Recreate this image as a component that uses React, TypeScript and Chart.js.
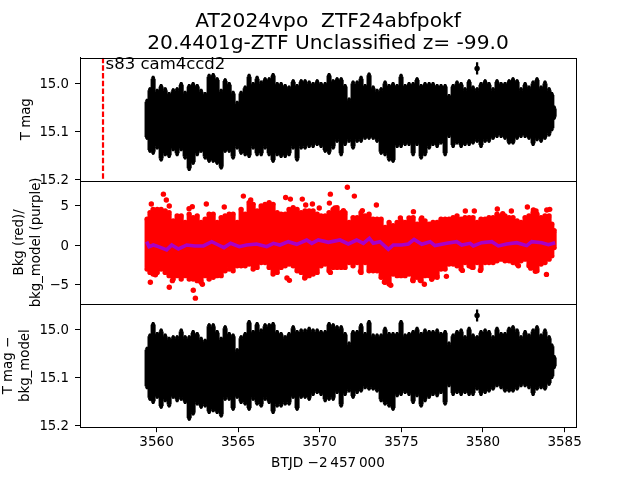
import React, { useEffect, useRef } from "react";
import { Chart, registerables } from "chart.js";

Chart.register(...registerables);

const times = [
  3559.42, 3559.6, 3559.79, 3560.04, 3560.28, 3560.53, 3560.77, 3561.02, 3561.26, 3561.51, 3561.75, 3562.0, 3562.24, 3562.49, 3562.73, 3562.98,
  3563.22, 3563.47, 3563.71, 3563.96, 3564.2, 3564.45, 3564.69, 3564.94, 3565.18, 3565.43, 3565.67, 3565.92, 3566.16, 3566.41, 3566.65, 3566.9,
  3567.14, 3567.39, 3567.63, 3567.88, 3568.12, 3568.37, 3568.61, 3568.86, 3569.1, 3569.35, 3569.59, 3569.84, 3570.08, 3570.33, 3570.57, 3570.82,
  3571.06, 3571.31, 3571.55, 3571.8, 3572.04, 3572.29, 3572.53, 3572.78, 3573.02, 3573.27, 3573.51, 3573.76, 3574.0, 3574.25, 3574.49, 3574.74,
  3574.98, 3575.23, 3575.47, 3575.72, 3575.96, 3576.21, 3576.45, 3576.7, 3576.94, 3577.19, 3577.43, 3577.68, 3577.92, 3578.17, 3578.41, 3578.66,
  3578.9, 3579.15, 3579.39, 3579.64, 3579.88, 3580.13, 3580.37, 3580.62, 3580.86, 3581.11, 3581.35, 3581.6, 3581.84, 3582.09, 3582.33, 3582.58,
  3582.82, 3583.07, 3583.31, 3583.56, 3583.8, 3584.05, 3584.22, 3584.36,
];

const tmagUpper = [
  15.033, 15.009, 14.985, 15.012, 15.002, 15.009, 15.019, 15.011, 15.009, 14.998, 15.016, 15.002, 14.998, 15.002, 15.012, 15.019, 14.981, 14.979, 14.988, 15.012, 14.99, 14.998, 15.016, 15.037, 15.016, 15.005, 14.981, 14.998, 14.985, 14.995, 14.988, 14.988, 14.979, 14.998, 14.998, 15.002, 15.005, 14.992, 15.002, 14.992, 14.992, 14.995, 14.998, 14.992, 14.998, 14.998, 14.979,
  14.992, 14.988, 14.988, 15.002, 15.03, 14.995, 14.995, 14.985, 15.002, 14.978, 15.005, 15.012, 15.009, 14.995, 15.002, 14.998, 15.002, 14.981, 15.002, 14.998, 14.998, 14.988, 15.002, 14.998, 14.998, 14.998, 15.002, 15.002, 15.002, 15.023, 15.002, 14.995, 14.998, 15.009, 14.992, 15.005, 15.009, 14.998, 14.992, 14.998, 15.009, 14.992, 14.998, 14.998, 14.992, 14.988, 14.992, 15.009, 14.998, 15.005, 14.995, 14.988, 15.005, 14.995, 15.009, 15.019, 15.047,
];
const tmagLower = [
  15.117, 15.144, 15.148, 15.137, 15.162, 15.151, 15.155, 15.141, 15.151, 15.141, 15.158, 15.182, 15.169, 15.151, 15.144, 15.158, 15.165, 15.165, 15.169, 15.179, 15.144, 15.144, 15.158, 15.137, 15.148, 15.151, 15.155, 15.137, 15.151, 15.151, 15.137, 15.151, 15.165, 15.151, 15.155, 15.155, 15.151, 15.137, 15.162, 15.137, 15.137, 15.134, 15.134, 15.13, 15.134, 15.144, 15.148,
  15.137, 15.123, 15.151, 15.13, 15.123, 15.137, 15.123, 15.123, 15.117, 15.117, 15.117, 15.123, 15.148, 15.151, 15.162, 15.165, 15.134, 15.134, 15.13, 15.13, 15.151, 15.13, 15.158, 15.151, 15.137, 15.13, 15.134, 15.127, 15.151, 15.113, 15.134, 15.127, 15.134, 15.13, 15.13, 15.127, 15.123, 15.134, 15.123, 15.123, 15.117, 15.113, 15.113, 15.117, 15.127, 15.127, 15.117, 15.113, 15.113, 15.117, 15.13, 15.12, 15.123, 15.117, 15.11, 15.099, 15.075,
];
const tmagOutlierT = [3579.64];
const tmagOutlierY = [14.969];
const tmagOutlierErr = [0.012];

const corrUpper = [
  15.037, 15.009, 14.985, 15.006, 14.999, 15.009, 15.016, 15.013, 15.013, 14.999, 15.013, 15.013, 15.002, 15.006, 15.016, 15.02, 14.988, 14.988, 15.002, 15.016, 14.992, 15.006, 15.009, 15.04, 15.013, 15.006, 14.981, 15.002, 14.985, 14.999, 14.988, 14.988, 14.985, 15.002, 15.006, 15.013, 15.006, 14.992, 15.002, 14.999, 14.999, 14.995, 14.999, 14.999, 15.002, 15.002, 14.985,
  14.988, 14.992, 14.992, 15.006, 15.026, 15.002, 15.002, 14.988, 15.006, 14.981, 15.009, 15.009, 15.009, 14.995, 15.006, 15.006, 15.006, 14.981, 15.009, 15.006, 15.002, 14.995, 15.006, 14.999, 15.002, 15.002, 14.999, 15.006, 15.002, 15.026, 15.009, 15.002, 14.999, 15.013, 14.995, 15.009, 15.013, 15.002, 14.999, 15.002, 15.013, 14.995, 15.006, 15.006, 14.995, 14.992, 14.999, 15.013, 15.002, 15.009, 14.999, 14.992, 15.009, 14.999, 15.013, 15.03, 15.054,
];
const corrLower = [
  15.124, 15.148, 15.155, 15.144, 15.165, 15.151, 15.162, 15.144, 15.151, 15.148, 15.155, 15.19, 15.179, 15.158, 15.165, 15.162, 15.176, 15.172, 15.176, 15.183, 15.148, 15.148, 15.169, 15.144, 15.155, 15.158, 15.169, 15.148, 15.158, 15.162, 15.148, 15.155, 15.176, 15.162, 15.162, 15.158, 15.158, 15.144, 15.169, 15.144, 15.144, 15.148, 15.138, 15.134, 15.138, 15.151, 15.148,
  15.148, 15.134, 15.162, 15.138, 15.131, 15.144, 15.134, 15.131, 15.124, 15.127, 15.127, 15.131, 15.151, 15.158, 15.162, 15.169, 15.141, 15.138, 15.134, 15.138, 15.155, 15.141, 15.162, 15.151, 15.144, 15.138, 15.141, 15.134, 15.158, 15.12, 15.138, 15.134, 15.138, 15.134, 15.138, 15.138, 15.127, 15.138, 15.134, 15.131, 15.127, 15.12, 15.124, 15.131, 15.131, 15.131, 15.127, 15.12, 15.12, 15.124, 15.138, 15.127, 15.124, 15.127, 15.117, 15.103, 15.082,
];
const corrOutlierT = [3579.64];
const corrOutlierY = [14.971];
const corrOutlierErr = [0.012];

const bkgUpper = [
  3.29, 4.12, 4.54, 4.54, 4.54, 4.33, 4.12, 3.08, 3.71, 3.71, 2.88, 3.92, 3.5, 3.71, 2.88, 3.29, 3.92, 3.92, 2.88, 3.5, 3.71, 3.92, 3.92, 2.88, 4.54, 3.92, 5.38, 5.17, 4.33, 4.96, 5.17, 5.38, 5.17, 4.12, 3.92, 3.92, 4.54, 4.75, 4.54, 4.12, 4.33, 4.33, 4.33, 3.92, 3.71, 3.71, 4.12,
  4.54, 4.75, 4.12, 4.12, 2.88, 3.5, 3.5, 4.12, 3.71, 3.92, 3.29, 3.29, 3.29, 2.25, 2.88, 2.46, 2.88, 3.08, 2.88, 3.08, 3.5, 2.67, 3.29, 3.08, 2.67, 2.88, 2.88, 3.29, 3.29, 3.29, 3.5, 3.71, 3.29, 3.5, 3.5, 3.5, 2.88, 3.29, 3.29, 3.5, 3.5, 3.92, 3.71, 3.71, 3.5, 3.5, 3.08, 2.88, 3.5, 3.71, 4.12, 3.92, 3.5, 3.71, 3.71, 2.67, 1.83,
];
const bkgLower = [
  -3.0, -3.42, -3.63, -3.42, -3.0, -3.42, -3.83, -4.25, -3.83, -4.25, -3.83, -4.25, -4.25, -4.46, -4.67, -3.83, -4.25, -4.04, -3.83, -3.83, -3.21, -3.0, -3.21, -2.58, -2.58, -2.58, -2.37, -3.0, -2.79, -2.17, -2.17, -2.79, -3.63, -3.42, -2.79, -2.58, -2.37, -2.58, -3.21, -3.42, -4.04, -3.83, -3.63, -3.42, -2.58, -2.37, -3.21,
  -2.79, -2.79, -2.79, -2.79, -2.17, -2.58, -2.17, -3.42, -2.17, -3.21, -3.21, -3.21, -4.04, -4.67, -4.87, -3.63, -3.83, -3.83, -3.83, -3.63, -4.46, -4.04, -4.46, -3.83, -3.83, -4.04, -4.04, -3.0, -3.0, -2.37, -2.37, -2.58, -3.0, -2.17, -2.58, -2.79, -2.17, -3.0, -2.17, -2.17, -2.17, -1.96, -1.75, -1.96, -1.96, -2.17, -2.37, -1.96, -1.75, -2.58, -2.79, -3.21, -2.37, -2.17, -1.75, -1.33, -0.29,
];
const bkgOutlierT = [
  3560.42, 3560.6, 3560.78, 3559.68, 3562.19, 3561.99, 3563.05, 3564.15, 3565.32, 3565.77, 3567.91, 3568.2, 3568.93, 3569.14, 3569.55, 3569.97, 3570.65, 3570.59, 3570.93,
  3559.62, 3559.93, 3560.78, 3560.97, 3562.25, 3562.38, 3562.81, 3567.99, 3568.14, 3569.08, 3570.65,
  3571.69, 3572.12, 3573.47, 3575.74, 3578.92, 3579.47, 3580.88, 3582.72, 3583.09, 3583.91, 3584.09, 3581.21, 3581.74, 3583.25, 3574.94, 3575.47, 3576.25, 3572.61, 3571.45,
  3572.49, 3573.96, 3574.35, 3575.7, 3576.16, 3576.41, 3576.86, 3577.17, 3577.76, 3578.74, 3579.31, 3579.84, 3582.17, 3582.93, 3583.21, 3583.89,
];
const bkgOutlierY = [
  6.46, 5.71, 4.96, 5.21, 4.88, 4.63, 5.21, 4.83, 6.21, 5.71, 6.04, 5.83, 5.83, 5.08, 5.21, 4.71, 6.46, 5.33, 4.71,
  -4.67, -3.71, -5.29, -4.46, -5.67, -6.67, -4.92, -4.13, -4.42, -4.13, -3.42,
  7.33, 6.21, 5.08, 4.25, 4.33, 4.33, 4.58, 4.83, 4.46, 4.46, 4.54, 4.0, 4.33, 4.33, 3.46, 3.46, 3.46, 4.38, 4.38,
  -3.29, -4.63, -5.04, -4.38, -4.42, -4.92, -4.29, -3.92, -3.92, -3.17, -2.75, -3.17, -2.58, -2.88, -3.29, -3.67,
];
const modelT = [
  3559.39, 3559.54, 3559.8, 3560.11, 3560.62, 3560.93, 3561.34, 3561.85, 3562.36, 3562.87, 3563.38, 3563.79, 3564.13, 3564.54, 3565.07, 3565.52, 3566.13, 3566.75, 3567.16, 3567.56, 3568.07, 3568.59, 3569.2, 3569.51, 3569.91, 3570.53, 3571.24, 3571.75, 3572.26, 3572.67, 3573.04, 3573.28, 3573.69, 3574.2, 3574.51, 3575.02, 3575.43, 3575.78, 3576.25, 3576.76, 3577.06, 3577.78, 3578.39, 3578.7, 3579.21, 3579.41, 3579.92, 3580.54, 3580.94, 3581.46, 3582.07, 3582.68, 3582.99, 3583.6, 3584.01, 3584.42,
];
const modelY = [
  0.46, -0.17, 0.04, -0.17, -0.58, 0.04, -0.46, 0.04, -0.08, -0.08, 0.46, 0.04, -0.29, 0.25, -0.17, 0.04, 0.17, -0.17, 0.25, 0.04, 0.46, 0.13, 0.67, 0.25, 0.67, 0.38, 0.67, 0.17, 0.67, 0.25, 0.88, 0.25, 0.46, -0.5, 0.04, 0.04, 0.17, 0.75, 0.13, 0.46, -0.04, 0.25, 0.46, 0.04, 0.25, -0.08, 0.33, 0.46, -0.08, 0.17, 0.33, -0.04, 0.46, 0.33, 0.08, 0.33,
];

const sectorLineT = [3556.72, 3556.72];
const sectorLineY = [14.9465, 15.2031];
const xLimits = [3555.31, 3585.7];
const tmagLimits = [14.9465, 15.2031];
const bkgLimits = [-7.41, 8.14];
const corrLimits = [14.947, 15.204];
const xTicks = [3560, 3565, 3570, 3575, 3580, 3585];
const tmagTicks = [15.0, 15.1, 15.2];
const bkgTicks = [5, 0, -5];
const corrTicks = [15.0, 15.1, 15.2];
const titleLines = ["AT2024vpo  ZTF24abfpokf", "20.4401g-ZTF Unclassified z= -99.0"];
const sectorLabel = "s83 cam4ccd2";
const sectorLabelT = 3556.88;
const sectorLabelMag = 14.971;

const FONT = "'DejaVu Sans'";
const MARKER_INSET = 0.004;
const BODY_INSET = 0.006;
const RED_BODY_INSET = 0.2;
const pairs = (xs: number[], ys: number[]) => xs.map((x, i) => ({ x, y: ys[i] }));
const ranges = (xs: number[], lo: number[], hi: number[]) => xs.map((x, i) => ({ x, y: [lo[i], hi[i]] }));
const shift = (ys: number[], d: number) => ys.map((v) => v + d);

const framePlugin = {
  id: "frame",
  afterDatasetsDraw(chart: any) {
    const { ctx, chartArea, scales } = chart;
    ctx.save();
    ctx.strokeStyle = "#000";
    ctx.lineWidth = 1;
    for (const id of ["yT", "yB", "yC"]) {
      const s = scales[id];
      ctx.strokeRect(Math.round(chartArea.left) + 0.5, Math.round(s.top) + 0.5, Math.round(chartArea.right - chartArea.left), Math.round(s.bottom - s.top));
    }
    ctx.fillStyle = "#000";
    ctx.font = `16.5px ${FONT}`;
    ctx.textAlign = "left";
    ctx.textBaseline = "alphabetic";
    ctx.fillText(sectorLabel, scales.x.getPixelForValue(sectorLabelT), scales.yT.getPixelForValue(sectorLabelMag));
    ctx.restore();
  },
};

function yScale(limits: number[], ticks: number[], reverse: boolean, title: string[], pad: number, fmt: (v: number) => string, weight: number) {
  return {
    type: "linear",
    position: "left",
    stack: "panels",
    stackWeight: 1,
    weight,
    reverse,
    min: limits[0],
    max: limits[1],
    afterFit: (s: any) => { s.width = 80; },
    afterBuildTicks: (s: any) => { s.ticks = ticks.map((value) => ({ value })); },
    grid: { display: true, drawOnChartArea: false, drawTicks: true, tickLength: 5, tickColor: "#000", tickWidth: 1 },
    border: { display: true, color: "#000", width: 1 },
    ticks: { color: "#000", font: { family: FONT, size: 13.3 }, padding: 6, labelOffset: 1, callback: (v: number) => fmt(v), autoSkip: false, maxRotation: 0 },
    title: { display: true, text: title, color: "#000", font: { family: FONT, size: 13.3, lineHeight: 1.3 }, padding: { top: pad, bottom: 0 } },
  };
}

function magPanel(axis: string, name: string, lower: number[], upper: number[], outT: number[], outY: number[], outErr: number[]) {
  const dots = { pointRadius: 2, pointBorderWidth: 0, pointBackgroundColor: "#000", showLine: false };
  return [
    { type: "bar", label: name, yAxisID: axis, data: ranges(times, shift(lower, -BODY_INSET), shift(upper, BODY_INSET)), backgroundColor: "#000", barThickness: 4.4, grouped: false, order: 5 },
    { type: "bar", label: name + " error bars", yAxisID: axis, data: ranges(times, lower, upper), backgroundColor: "#000", barThickness: 1.6, grouped: false, order: 5 },
    { type: "line", label: name + " upper", yAxisID: axis, data: pairs(times, shift(upper, MARKER_INSET)), ...dots, order: 4 },
    { type: "line", label: name + " lower", yAxisID: axis, data: pairs(times, shift(lower, -MARKER_INSET)), ...dots, order: 4 },
    { type: "bar", label: name + " outlier error", yAxisID: axis, data: ranges(outT, outY.map((v, i) => v - outErr[i]), outY.map((v, i) => v + outErr[i])), backgroundColor: "#000", barThickness: 1.6, grouped: false, order: 5 },
    { type: "line", label: name + " outlier", yAxisID: axis, data: pairs(outT, outY), ...dots, pointRadius: 2.7, order: 4 },
  ];
}

export default function App() {
  const ref = useRef<HTMLCanvasElement>(null);
  useEffect(() => {
    const red = { pointRadius: 2.7, pointBorderWidth: 0, pointBackgroundColor: "#ff0000", showLine: false };
    const chart = new Chart(ref.current as HTMLCanvasElement, {
      type: "bar",
      plugins: [framePlugin],
      data: {
        datasets: [
          { type: "line", label: "sector start", yAxisID: "yT", data: pairs(sectorLineT, sectorLineY), borderColor: "#ff0000", borderWidth: 2.2, borderDash: [5.5, 2.2], pointRadius: 0, order: 1 },
          ...magPanel("yT", "T mag", tmagLower, tmagUpper, tmagOutlierT, tmagOutlierY, tmagOutlierErr),

          { type: "line", label: "bkg_model", yAxisID: "yB", data: pairs(modelT, modelY), borderColor: "#a800c8", borderWidth: 3.6, pointRadius: 0, tension: 0, order: 0 },
          { type: "bar", label: "Bkg", yAxisID: "yB", data: ranges(times, shift(bkgLower, RED_BODY_INSET), shift(bkgUpper, -RED_BODY_INSET)), backgroundColor: "#ff0000", barThickness: 4.4, grouped: false, order: 5 },
          { type: "line", label: "Bkg upper", yAxisID: "yB", data: pairs(times, bkgUpper), ...red, order: 4 },
          { type: "line", label: "Bkg lower", yAxisID: "yB", data: pairs(times, bkgLower), ...red, order: 4 },
          { type: "line", label: "Bkg outliers", yAxisID: "yB", data: pairs(bkgOutlierT, bkgOutlierY), ...red, order: 4 },

          ...magPanel("yC", "T mag - bkg_model", corrLower, corrUpper, corrOutlierT, corrOutlierY, corrOutlierErr),
        ],
      },
      options: {
        responsive: false,
        animation: false,
        layout: { padding: { left: 0, right: 64, top: 0, bottom: 0 } },
        plugins: {
          legend: { display: false },
          tooltip: { enabled: false },
          title: { display: true, text: titleLines, fullSize: false, color: "#000", font: { family: FONT, size: 20.2, weight: "normal", lineHeight: 1.09 }, padding: { top: 11, bottom: 2.6 } },
        },
        scales: {
          x: {
            type: "linear",
            position: "bottom",
            offset: false,
            min: xLimits[0],
            max: xLimits[1],
            afterFit: (s: any) => { s.height = 52.8; },
            afterBuildTicks: (s: any) => { s.ticks = xTicks.map((value) => ({ value })); },
            grid: { display: true, offset: false, drawOnChartArea: false, drawTicks: true, tickLength: 5, tickColor: "#000", tickWidth: 1 },
            border: { display: true, color: "#000", width: 1 },
            ticks: { color: "#000", font: { family: FONT, size: 13.5 }, padding: 2, callback: (v: number) => String(v), autoSkip: false, maxRotation: 0 },
            title: { display: true, text: "BTJD \u22122\u2009457\u2009000", color: "#000", font: { family: FONT, size: 13.6 }, padding: { top: 0, bottom: 8 } },
          },
          yT: yScale(tmagLimits, tmagTicks, true, ["T mag"], 18, (v) => v.toFixed(1), 3),
          yB: yScale(bkgLimits, bkgTicks, false, ["Bkg (red)/", "bkg_model (purple)"], 11, (v) => String(v).replace("-", "\u2212"), 2),
          yC: yScale(corrLimits, corrTicks, true, ["T mag \u2212", "bkg_model"], 0, (v) => v.toFixed(1), 1),
        },
      },
    } as any);
    return () => chart.destroy();
  }, []);
  return <canvas ref={ref} width={640} height={480} style={{ position: "fixed", left: 0, top: 0, width: 640, height: 480 }} />;
}
